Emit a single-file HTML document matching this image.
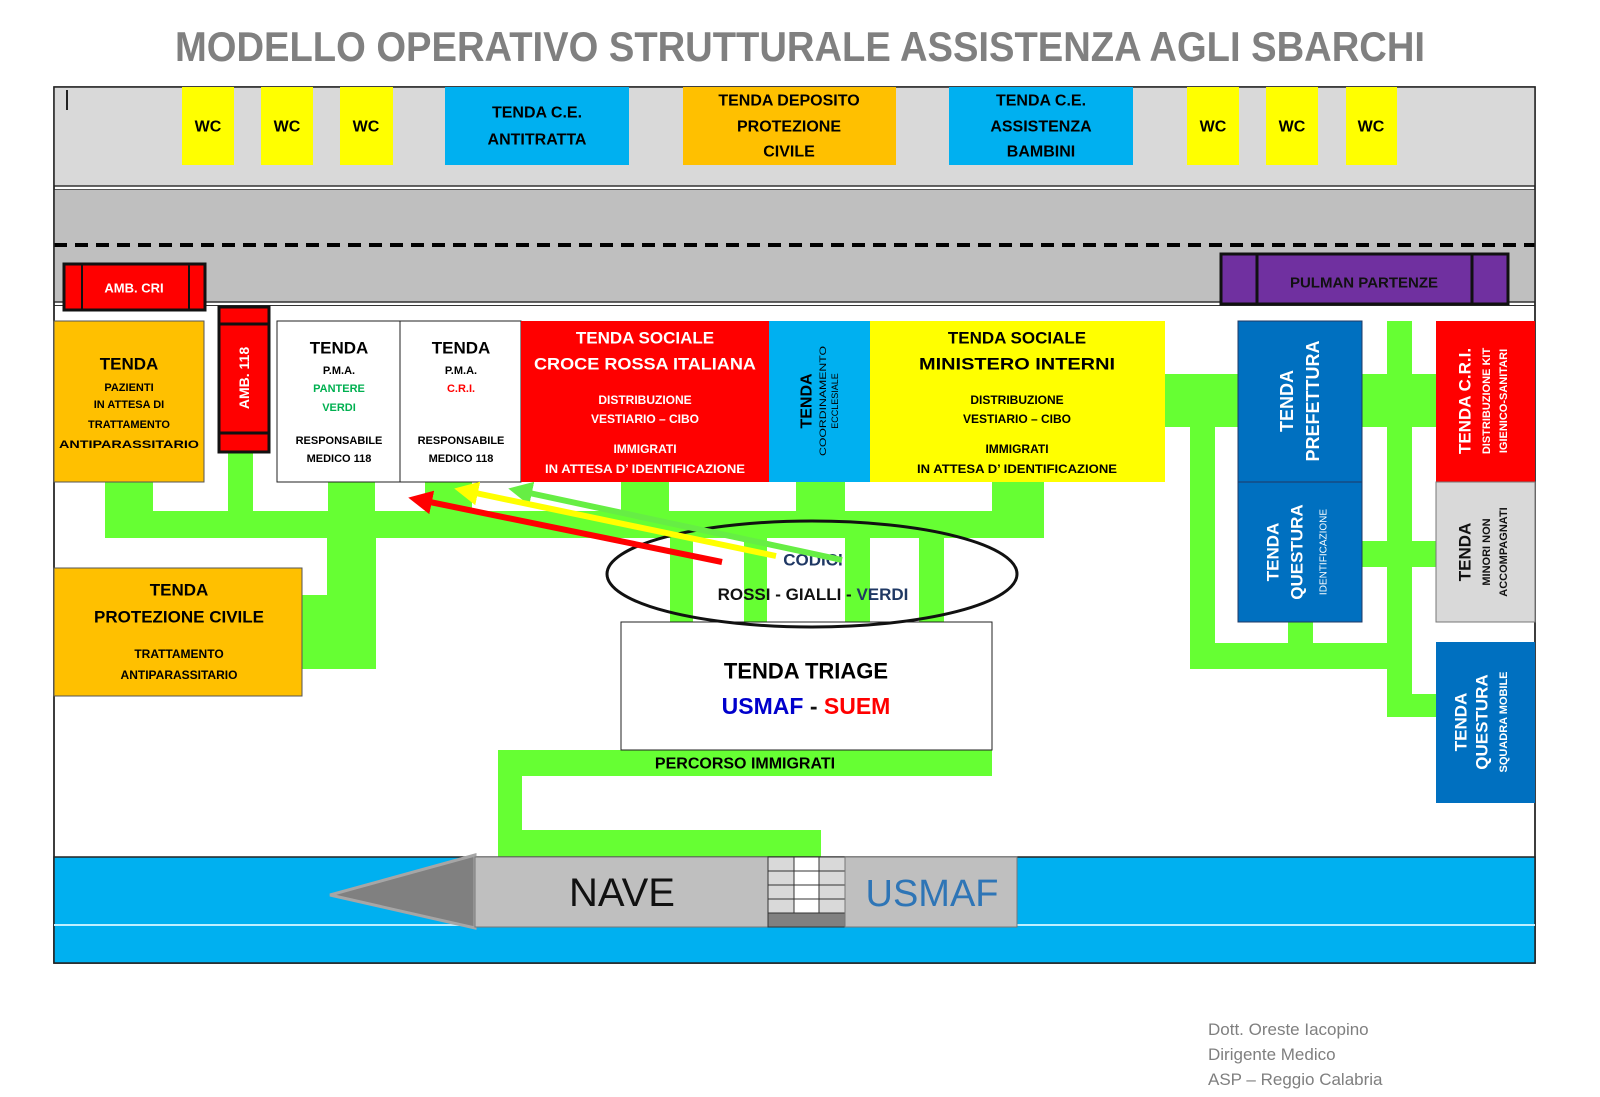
<!DOCTYPE html>
<html><head><meta charset="utf-8"><style>
html,body{margin:0;padding:0;background:#fff;width:1600px;height:1097px;overflow:hidden}
svg{display:block}
text{font-family:"Liberation Sans",sans-serif}
</style></head><body>
<svg width="1600" height="1097" viewBox="0 0 1600 1097" xmlns="http://www.w3.org/2000/svg">
<defs>
<marker id="ar" viewBox="0 0 10 10" refX="5" refY="5" markerWidth="4" markerHeight="4" orient="auto"><path d="M0,0 L10,5 L0,10 z" fill="#ff0000"/></marker>
<marker id="ay" viewBox="0 0 10 10" refX="5" refY="5" markerWidth="4" markerHeight="4" orient="auto"><path d="M0,0 L10,5 L0,10 z" fill="#ffff00"/></marker>
<marker id="ag" viewBox="0 0 10 10" refX="5" refY="5" markerWidth="4" markerHeight="4" orient="auto"><path d="M0,0 L10,5 L0,10 z" fill="#66ee44"/></marker>
</defs>
<text x="800" y="61" text-anchor="middle" font-size="42" font-weight="bold" fill="#808080" textLength="1250" lengthAdjust="spacingAndGlyphs">MODELLO OPERATIVO STRUTTURALE ASSISTENZA AGLI SBARCHI</text>

<!-- main frame -->
<rect x="54" y="87" width="1481" height="876" fill="#fff" stroke="#222" stroke-width="1.5"/>
<rect x="54" y="87" width="1481" height="99" fill="#d9d9d9"/>
<rect x="54" y="189" width="1481" height="113" fill="#bfbfbf"/>
<line x1="54" y1="186" x2="1535" y2="186" stroke="#333" stroke-width="1.5"/>
<line x1="54" y1="189.5" x2="1535" y2="189.5" stroke="#555" stroke-width="1"/>
<line x1="54" y1="245" x2="1535" y2="245" stroke="#000" stroke-width="4" stroke-dasharray="13 8"/>
<line x1="54" y1="302" x2="1535" y2="302" stroke="#333" stroke-width="1.5"/>
<line x1="54" y1="305.5" x2="1535" y2="305.5" stroke="#333" stroke-width="1"/>
<line x1="67" y1="90" x2="67" y2="110" stroke="#222" stroke-width="2"/>
<rect x="54" y="87" width="1481" height="876" fill="none" stroke="#222" stroke-width="1.5"/>

<!-- top row -->
<g font-weight="bold" text-anchor="middle" dominant-baseline="central">
<rect x="182" y="87" width="52" height="78" fill="#ffff00"/><text x="208" y="127" font-size="16">WC</text>
<rect x="261" y="87" width="52" height="78" fill="#ffff00"/><text x="287" y="127" font-size="16">WC</text>
<rect x="340" y="87" width="53" height="78" fill="#ffff00"/><text x="366" y="127" font-size="16">WC</text>
<rect x="1187" y="87" width="52" height="78" fill="#ffff00"/><text x="1213" y="127" font-size="16">WC</text>
<rect x="1266" y="87" width="52" height="78" fill="#ffff00"/><text x="1292" y="127" font-size="16">WC</text>
<rect x="1346" y="87" width="51" height="78" fill="#ffff00"/><text x="1371" y="127" font-size="16">WC</text>
<rect x="445" y="87" width="184" height="78" fill="#00b0f0"/>
<text x="537" y="113" font-size="16">TENDA  C.E.</text><text x="537" y="140" font-size="16">ANTITRATTA</text>
<rect x="683" y="87" width="213" height="78" fill="#ffc000"/>
<text x="789" y="101" font-size="16">TENDA DEPOSITO</text><text x="789" y="127" font-size="16">PROTEZIONE</text><text x="789" y="152" font-size="16">CIVILE</text>
<rect x="949" y="87" width="184" height="78" fill="#00b0f0"/>
<text x="1041" y="101" font-size="16">TENDA C.E.</text><text x="1041" y="127" font-size="16">ASSISTENZA</text><text x="1041" y="152" font-size="16">BAMBINI</text>

<!-- AMB CRI / PULMAN -->
<rect x="64" y="264" width="141" height="46" fill="#ff0000" stroke="#111" stroke-width="3"/>
<line x1="82" y1="264" x2="82" y2="310" stroke="#111" stroke-width="2"/>
<line x1="189" y1="264" x2="189" y2="310" stroke="#111" stroke-width="2"/>
<text x="134" y="288" font-size="13" fill="#fff">AMB. CRI</text>
<rect x="1221" y="254" width="287" height="50" fill="#7030a0" stroke="#111" stroke-width="3"/>
<line x1="1257" y1="254" x2="1257" y2="304" stroke="#111" stroke-width="3"/>
<line x1="1472" y1="254" x2="1472" y2="304" stroke="#111" stroke-width="3"/>
<text x="1364" y="283" font-size="15" fill="#111">PULMAN PARTENZE</text>
</g>

<!-- green paths -->
<g fill="#66ff33">
<rect x="105" y="511" width="939" height="27"/>
<rect x="105" y="482" width="48" height="30"/>
<rect x="228" y="452" width="25" height="60"/>
<rect x="328" y="482" width="47" height="30"/>
<rect x="425" y="482" width="47" height="30"/>
<rect x="621" y="482" width="48" height="30"/>
<rect x="796" y="482" width="49" height="30"/>
<rect x="992" y="482" width="52" height="30"/>
<rect x="327" y="537" width="49" height="132"/>
<rect x="302" y="595" width="26" height="74"/>
<rect x="670" y="537" width="23" height="86"/>
<rect x="744" y="537" width="23" height="86"/>
<rect x="845" y="537" width="25" height="86"/>
<rect x="919" y="537" width="25" height="86"/>
<rect x="498" y="750" width="494" height="26"/>
<rect x="498" y="750" width="24" height="107"/>
<rect x="498" y="830" width="323" height="27"/>
<!-- right -->
<rect x="1165" y="374" width="73" height="53"/>
<rect x="1190" y="374" width="25" height="295"/>
<rect x="1190" y="643" width="222" height="26"/>
<rect x="1288" y="620" width="25" height="30"/>
<rect x="1387" y="321" width="25" height="396"/>
<rect x="1362" y="374" width="74" height="53"/>
<rect x="1362" y="541" width="74" height="26"/>
<rect x="1410" y="694" width="26" height="23"/>
</g>

<!-- tents row -->
<g text-anchor="middle" dominant-baseline="central" font-weight="bold">
<rect x="54" y="321" width="150" height="161" fill="#ffc000" stroke="#555" stroke-width="1"/>
<text x="129" y="364" font-size="17">TENDA</text>
<text x="129" y="388" font-size="11">PAZIENTI</text>
<text x="129" y="405" font-size="11">IN ATTESA DI</text>
<text x="129" y="425" font-size="11">TRATTAMENTO</text>
<text x="129" y="445" font-size="11" textLength="140" lengthAdjust="spacingAndGlyphs">ANTIPARASSITARIO</text>

<rect x="219" y="307" width="50" height="145" fill="#ff0000" stroke="#111" stroke-width="3"/>
<line x1="219" y1="324" x2="269" y2="324" stroke="#111" stroke-width="3"/>
<line x1="219" y1="433" x2="269" y2="433" stroke="#111" stroke-width="3"/>
<text transform="translate(244,378) rotate(-90)" font-size="14" fill="#fff">AMB. 118</text>

<rect x="277" y="321" width="123" height="161" fill="#fff" stroke="#222" stroke-width="1"/>
<rect x="400" y="321" width="121" height="161" fill="#fff" stroke="#222" stroke-width="1"/>
<text x="339" y="348" font-size="17">TENDA</text>
<text x="339" y="371" font-size="11">P.M.A.</text>
<text x="339" y="389" font-size="11" fill="#00b050">PANTERE</text>
<text x="339" y="408" font-size="11" fill="#00b050">VERDI</text>
<text x="339" y="441" font-size="11">RESPONSABILE</text>
<text x="339" y="459" font-size="11">MEDICO 118</text>
<text x="461" y="348" font-size="17">TENDA</text>
<text x="461" y="371" font-size="11">P.M.A.</text>
<text x="461" y="389" font-size="11" fill="#ff0000">C.R.I.</text>
<text x="461" y="441" font-size="11">RESPONSABILE</text>
<text x="461" y="459" font-size="11">MEDICO 118</text>

<rect x="521" y="321" width="248" height="161" fill="#ff0000"/>
<g fill="#fff">
<text x="645" y="338" font-size="17">TENDA SOCIALE</text>
<text x="645" y="364" font-size="17" textLength="222" lengthAdjust="spacingAndGlyphs">CROCE ROSSA ITALIANA</text>
<text x="645" y="400" font-size="12">DISTRIBUZIONE</text>
<text x="645" y="419" font-size="12">VESTIARIO – CIBO</text>
<text x="645" y="449" font-size="12">IMMIGRATI</text>
<text x="645" y="469" font-size="12" textLength="200" lengthAdjust="spacingAndGlyphs">IN ATTESA D’ IDENTIFICAZIONE</text>
</g>

<rect x="769" y="321" width="101" height="161" fill="#00b0f0"/>
<g transform="translate(819,401) rotate(-90)">
<text x="0" y="-12" font-size="16">TENDA</text>
<text x="0" y="4" font-size="9" font-weight="normal" textLength="110" lengthAdjust="spacingAndGlyphs">COORDINAMENTO</text>
<text x="0" y="16" font-size="9" font-weight="normal">ECCLESIALE</text>
</g>

<rect x="870" y="321" width="295" height="161" fill="#ffff00"/>
<text x="1017" y="338" font-size="17">TENDA SOCIALE</text>
<text x="1017" y="364" font-size="17" textLength="196" lengthAdjust="spacingAndGlyphs">MINISTERO INTERNI</text>
<text x="1017" y="400" font-size="12">DISTRIBUZIONE</text>
<text x="1017" y="419" font-size="12">VESTIARIO – CIBO</text>
<text x="1017" y="449" font-size="12">IMMIGRATI</text>
<text x="1017" y="469" font-size="12" textLength="200" lengthAdjust="spacingAndGlyphs">IN ATTESA D’ IDENTIFICAZIONE</text>

<rect x="1238" y="321" width="124" height="161" fill="#0070c0" stroke="#1f3864" stroke-width="1"/>
<g transform="translate(1300,401) rotate(-90)" fill="#fff">
<text x="0" y="-13" font-size="18">TENDA</text>
<text x="0" y="13" font-size="18">PREFETTURA</text>
</g>
<rect x="1238" y="482" width="124" height="140" fill="#0070c0" stroke="#1f3864" stroke-width="1"/>
<g transform="translate(1300,552) rotate(-90)" fill="#fff">
<text x="0" y="-27" font-size="17">TENDA</text>
<text x="0" y="-3" font-size="17">QUESTURA</text>
<text x="0" y="24" font-size="10" font-weight="normal">IDENTIFICAZIONE</text>
</g>

<rect x="1436" y="321" width="99" height="161" fill="#ff0000"/>
<g transform="translate(1485,401) rotate(-90)" fill="#fff">
<text x="0" y="-20" font-size="17">TENDA  C.R.I.</text>
<text x="0" y="2" font-size="11">DISTRIBUZIONE KIT</text>
<text x="0" y="19" font-size="11">IGIENICO-SANITARI</text>
</g>
<rect x="1436" y="482" width="99" height="140" fill="#d9d9d9" stroke="#777" stroke-width="1"/>
<g transform="translate(1485,552) rotate(-90)" fill="#111">
<text x="0" y="-20" font-size="17">TENDA</text>
<text x="0" y="2" font-size="11">MINORI  NON</text>
<text x="0" y="19" font-size="11">ACCOMPAGNATI</text>
</g>
<rect x="1436" y="642" width="99" height="161" fill="#0070c0"/>
<g transform="translate(1485,722) rotate(-90)" fill="#fff">
<text x="0" y="-24" font-size="17">TENDA</text>
<text x="0" y="-3" font-size="17">QUESTURA</text>
<text x="0" y="19" font-size="11">SQUADRA MOBILE</text>
</g>

<rect x="54" y="568" width="248" height="128" fill="#ffc000" stroke="#555" stroke-width="1"/>
<text x="179" y="590" font-size="17">TENDA</text>
<text x="179" y="617" font-size="17">PROTEZIONE CIVILE</text>
<text x="179" y="654" font-size="12">TRATTAMENTO</text>
<text x="179" y="675" font-size="12">ANTIPARASSITARIO</text>

<rect x="621" y="622" width="371" height="128" fill="#fff" stroke="#222" stroke-width="1"/>
<text x="806" y="671" font-size="22">TENDA  TRIAGE</text>
<text x="806" y="706" font-size="23"><tspan fill="#0000cc">USMAF</tspan><tspan fill="#111"> - </tspan><tspan fill="#ff0000">SUEM</tspan></text>
<text x="745" y="764" font-size="16">PERCORSO  IMMIGRATI</text>

<!-- ellipse -->
<ellipse cx="812" cy="574" rx="205" ry="53" fill="none" stroke="#111" stroke-width="3"/>
<text x="813" y="560" font-size="17" fill="#1f3864">CODICI</text>
<text x="813" y="594" font-size="17"><tspan fill="#111">ROSSI - GIALLI - </tspan><tspan fill="#1f3864">VERDI</tspan></text>
</g>

<!-- arrows -->
<line x1="842" y1="560" x2="520" y2="491" stroke="#66ee44" stroke-width="6" marker-end="url(#ag)"/>
<line x1="776" y1="556" x2="466" y2="491" stroke="#ffff00" stroke-width="6" marker-end="url(#ay)"/>
<line x1="722" y1="562" x2="420" y2="500" stroke="#ff0000" stroke-width="6" marker-end="url(#ar)"/>

<!-- sea & ship -->
<rect x="54" y="857" width="1481" height="106" fill="#00b0f0" stroke="#222" stroke-width="1.5"/>
<line x1="54" y1="925" x2="1535" y2="925" stroke="#bfefff" stroke-width="2"/>
<polygon points="475,855 475,928 330,895" fill="#808080" stroke="#a6a6a6" stroke-width="3"/>
<rect x="475" y="857" width="293" height="70" fill="#bfbfbf" stroke="#777" stroke-width="1"/>
<text x="622" y="906" font-size="40" text-anchor="middle" fill="#111">NAVE</text>
<g stroke="#333" stroke-width="1">
<rect x="768" y="857" width="26" height="56" fill="#d9d9d9"/>
<rect x="794" y="857" width="25" height="56" fill="#fff"/>
<rect x="819" y="857" width="26" height="56" fill="#d9d9d9"/>
<line x1="768" y1="871" x2="845" y2="871"/><line x1="768" y1="885" x2="845" y2="885"/><line x1="768" y1="899" x2="845" y2="899"/>
<rect x="768" y="913" width="77" height="14" fill="#808080"/>
</g>
<rect x="845" y="857" width="172" height="70" fill="#bfbfbf" stroke="#777" stroke-width="1"/>
<text x="932" y="906" font-size="38" text-anchor="middle" fill="#2e75b6">USMAF</text>

<!-- footer -->
<g font-size="17" fill="#7f7f7f">
<text x="1208" y="1035">Dott. Oreste Iacopino</text>
<text x="1208" y="1060">Dirigente Medico</text>
<text x="1208" y="1085">ASP – Reggio Calabria</text>
</g>
</svg>
</body></html>
